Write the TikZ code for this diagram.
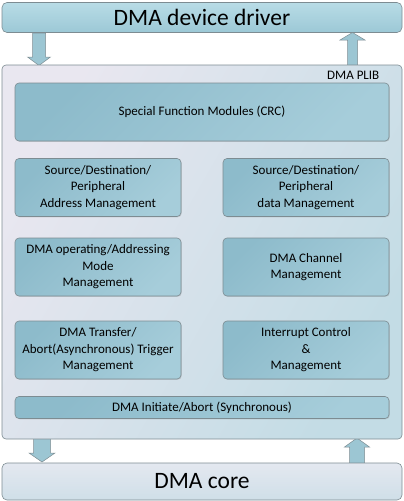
\documentclass[tikz,border=0pt]{standalone}
\usepackage{fontspec}
\setmainfont{Carlito}
\usetikzlibrary{shadows}
\definecolor{modA}{HTML}{8DBBCB}
\definecolor{modB}{HTML}{A6CDDA}
\definecolor{barA}{HTML}{9CC8D6}
\definecolor{barB}{HTML}{B8DCE6}
\definecolor{plibA}{HTML}{E9E7F0}
\definecolor{plibB}{HTML}{C3DCE5}
\definecolor{coreA}{HTML}{E4E8F0}
\definecolor{coreB}{HTML}{CFDFE8}
\definecolor{edge}{HTML}{7D8C92}
\definecolor{arrowfill}{HTML}{9CC6D3}
\begin{document}
\begin{tikzpicture}[x=1pt,y=-1pt,
  module/.style={draw=edge, line width=0.6pt, rounded corners=4pt, left color=modA, right color=modB, shading angle=45,
    drop shadow={shadow xshift=0.8pt,shadow yshift=-0.8pt,opacity=0.25},
    align=center, font=\fontsize{13}{16.5}\selectfont, inner sep=0pt},
  bigbar/.style={draw=edge, line width=0.6pt, rounded corners=5pt, align=center, inner sep=0pt, font=\fontsize{23.5}{26}\selectfont},
  blockarrow/.style={draw=edge, line width=0.5pt, fill=arrowfill}
]
\useasboundingbox (0,0) rectangle (404,501);
% top bar
\node[bigbar, top color=barB, bottom color=barA, minimum width=400pt, minimum height=30pt] (driver) at (202,17.5) {DMA device driver};
% arrows top
\draw[blockarrow] (347.5,72) -- (347.5,40) -- (340,40) -- (352.5,32.5) -- (365,40) -- (357.5,40) -- (357.5,72) -- cycle;
\draw[blockarrow] (32.5,33) -- (45.5,33) -- (45.5,57) -- (50.5,57) -- (39,65.5) -- (27.5,57) -- (32.5,57) -- cycle;
% bottom arrows
\draw[blockarrow] (33.5,436) -- (50.5,436) -- (50.5,453) -- (55,453) -- (42,462) -- (29,453) -- (33.5,453) -- cycle;
\draw[blockarrow] (349.5,470) -- (349.5,447) -- (344.5,447) -- (357,438) -- (369.5,447) -- (364.5,447) -- (364.5,470) -- cycle;
% main PLIB box
\node[draw=edge, line width=0.6pt, rounded corners=4pt, left color=plibA, right color=plibB, shading angle=60,
  minimum width=400pt, minimum height=374pt, inner sep=0pt] (plib) at (202,252) {};
\node[anchor=east, font=\fontsize{13}{15}\selectfont, inner sep=0pt] (plibl) at (379.5,75) {DMA PLIB};
% modules
\node[module, minimum width=374pt, minimum height=58pt] (sfm) at (202,112) {Special Function Modules (CRC)};
\node[module, minimum width=166pt, minimum height=58pt] (sdpa) at (98,187.5) {Source/Destination/\\Peripheral\\Address Management};
\node[module, minimum width=166pt, minimum height=58pt] (sdpd) at (306,187.5) {Source/Destination/\\Peripheral\\data Management};
\node[module, minimum width=166pt, minimum height=58pt] (opm) at (98,267) {DMA operating/Addressing\\Mode\\Management};
\node[module, minimum width=166pt, minimum height=58pt] (chm) at (306,267) {DMA Channel\\Management};
\node[module, minimum width=166pt, minimum height=58pt] (trg) at (98,350) {DMA Transfer/\\Abort(Asynchronous) Trigger\\Management};
\node[module, minimum width=166pt, minimum height=58pt] (irq) at (306,350) {Interrupt Control\\\&\\Management};
\node[module, minimum width=374pt, minimum height=22pt] (init) at (202,407.5) {DMA Initiate/Abort (Synchronous)};
% bottom bar
\node[bigbar, top color=coreA, bottom color=coreB, minimum width=400pt, minimum height=37pt] (core) at (202,481.5) {DMA core};
\end{tikzpicture}
\end{document}
